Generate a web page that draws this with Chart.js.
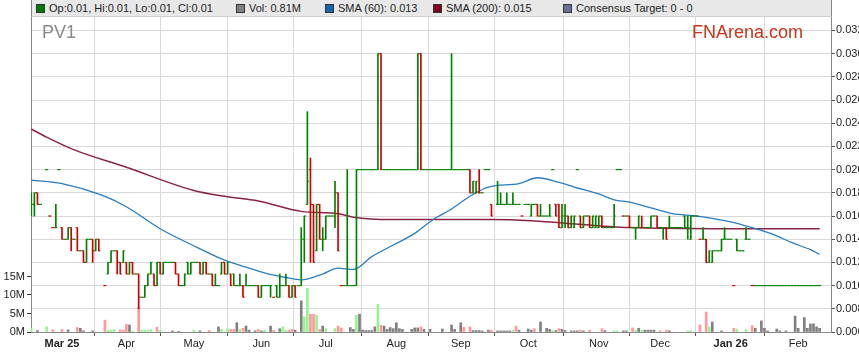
<!DOCTYPE html>
<html><head><meta charset="utf-8">
<script src="https://cdn.jsdelivr.net/npm/chart.js@4.4.1/dist/chart.umd.min.js"></script>
<style>
html,body{margin:0;padding:0;background:#fff;}
#wrap{position:relative;width:859px;height:363px;overflow:hidden;font-family:"Liberation Sans",Arial,sans-serif;}
#c{position:absolute;left:0;top:0;}
#legend{position:absolute;left:31px;top:0;width:801px;height:17px;background:#e8e8e8;border-left:1px solid #888;border-right:1px solid #888;border-bottom:1px solid #cfcfcf;box-sizing:border-box;font-size:11px;color:#222;}
.item{position:absolute;top:2px;line-height:12px;white-space:nowrap;}
.sw{display:inline-block;width:7px;height:7px;border:1px solid #333;margin-right:4px;vertical-align:-1px;}
#code{position:absolute;left:42px;top:22px;font-size:18px;color:#8a8a8a;}
#brand{position:absolute;left:692px;top:22px;font-size:18px;color:#c8361a;}
</style></head>
<body>
<div id="wrap">
<canvas id="c" width="859" height="363"></canvas>
<div id="legend">
 <div class="item" style="left:4px"><span class="sw" style="background:#007a00"></span>Op:0.01, Hi:0.01, Lo:0.01, Cl:0.01</div>
 <div class="item" style="left:204px"><span class="sw" style="background:#808080"></span>Vol: 0.81M</div>
 <div class="item" style="left:293px"><span class="sw" style="background:#1466b0"></span>SMA (60): 0.013</div>
 <div class="item" style="left:401px"><span class="sw" style="background:#800020"></span>SMA (200): 0.015</div>
 <div class="item" style="left:531px"><span class="sw" style="background:#6e6e9a"></span>Consensus Target: 0 - 0</div>
</div>
<div id="code">PV1</div>
<div id="brand">FNArena.com</div>
</div>
<script>
// Prices are given in units of 0.001 AUD (index = trading weekday from 17 Feb 2025)
const PRICE_UNIT = 0.001;
const openP = [
17,17,18,17,null,20,16,15,15,20,
15,14,14,15,14,15,13,13,12,14,
14,13,14,null,10,11,12,13,13,12,
12,12,11,12,11,11,9,9,10,11,
11,10,12,11,12,12,12,12,11,10,
10,12,11,12,12,12,11,12,11,11,
10,10,11,12,11,11,11,10,10,10,
10,10,10,10,10,9,10,10,10,9,
10,9,10,10,10,9,10,10,10,14,
17,20,17,13,17,14,14,16,16,16,
18,10,10,10,10,10,10,20,20,20,
20,20,20,20,30,20,20,20,20,20,
20,20,20,20,20,20,20,30,20,20,
20,20,20,20,20,20,20,20,20,20,
20,20,20,20,18,18,18,18,20,20,
17,null,17,17,17,17,17,17,17,17,
16,17,17,16,17,17,16,16,16,16,
20,17,17,15,16,16,15,15,20,16,
15,16,16,15,15,15,16,15,15,15,
15,20,20,16,16,16,15,15,15,15,
15,15,15,16,16,15,15,15,15,15,
15,15,15,16,15,14,16,16,14,14,
14,12,12,13,13,13,14,14,14,10,
14,13,13,14,14,10,10,10,10,10,
10,10,10,10,10,10,10,10,10,10,
10,10,10,10,10,10,10,10];
const highP = [
18,18,18,17,null,20,16,15,17,20,
15,14,15,15,14,15,13,13,14,14,
14,14,14,null,10,12,13,13,13,12,
13,12,12,12,11,11,9,10,11,12,
11,12,12,12,12,12,12,12,11,10,
11,12,12,12,12,12,12,12,11,11,
11,10,12,12,12,11,11,10,11,10,
11,10,10,10,10,10,10,10,10,9,
10,11,10,11,10,10,10,10,15,16,
25,21,17,17,17,15,16,16,16,19,
18,10,10,20,10,10,20,20,20,20,
20,20,20,30,30,20,20,20,20,20,
20,20,20,20,20,20,30,30,20,20,
20,20,20,20,20,20,20,30,20,20,
20,20,20,20,19,19,20,18,20,20,
17,null,19,18,17,18,17,18,17,17,
16,17,17,17,17,17,17,16,16,17,
20,17,17,17,17,16,16,16,20,16,
16,16,16,16,16,16,16,15,15,15,
17,20,20,16,16,16,15,15,16,16,
15,15,16,16,16,15,15,15,16,15,
15,15,15,16,16,16,16,16,14,15,
14,13,13,13,13,14,15,14,14,10,
14,13,13,15,14,10,10,10,10,10,
10,10,10,10,10,10,10,10,10,10,
10,10,10,10,10,10,10,10];
const lowP = [
16,16,17,17,null,20,16,15,15,20,
14,14,14,13,14,13,13,12,12,14,
12,13,13,null,10,11,12,13,11,11,
12,11,11,11,11,8,9,9,10,11,
10,10,11,11,12,12,12,11,10,10,
10,11,11,12,12,11,11,11,11,10,
10,10,11,11,11,10,10,10,10,9,
10,10,10,10,9,9,10,10,9,9,
9,9,10,10,9,9,9,10,10,12,
17,12,12,13,14,13,14,16,16,15,
13,10,10,10,10,10,10,20,20,20,
20,20,20,20,20,20,20,20,20,20,
20,20,20,20,20,20,20,20,20,20,
20,20,20,20,20,20,20,20,20,20,
20,20,20,18,18,18,18,18,20,20,
16,null,17,17,17,17,17,17,17,17,
16,17,17,16,17,16,16,16,16,16,
20,16,15,15,15,15,15,15,20,15,
15,16,15,15,15,15,15,15,15,15,
15,20,20,16,16,15,15,14,15,15,
15,15,15,16,15,15,14,14,15,15,
15,15,15,15,14,14,16,16,14,14,
12,12,12,13,13,13,14,14,14,10,
13,13,13,14,14,10,10,10,10,10,
10,10,10,10,10,10,10,10,10,10,
10,10,10,10,10,10,10,10];
const closeP = [
17,18,17,17,null,20,16,15,15,20,
14,14,15,14,14,13,13,12,14,14,
13,14,13,null,10,12,13,13,12,11,
13,11,12,11,11,9,9,10,11,12,
10,12,11,12,12,12,12,11,10,10,
11,11,12,12,12,11,12,11,11,10,
10,10,12,11,12,10,10,10,10,9,
10,10,10,10,9,10,10,10,10,9,
9,10,10,10,9,10,9,10,14,16,
19,17,12,17,14,14,16,16,16,18,
13,10,10,10,10,10,20,20,20,20,
20,20,20,30,20,20,20,20,20,20,
20,20,20,20,20,20,30,20,20,20,
20,20,20,20,20,20,20,20,20,20,
20,20,20,18,19,19,18,18,20,20,
16,null,17,17,17,17,17,17,17,17,
16,17,17,17,17,16,16,16,16,16,
20,16,15,16,16,15,16,16,20,15,
16,16,15,16,16,16,15,15,15,15,
16,20,20,16,16,15,15,15,16,15,
15,15,16,16,15,15,15,14,15,15,
15,15,15,15,15,16,16,16,14,14,
12,13,13,13,13,14,14,14,14,10,
13,13,13,14,14,10,10,10,10,10,
10,10,10,10,10,10,10,10,10,10,
10,10,10,10,10,10,10,10];

// Volume (millions) at trading-day index; kind: u = up (green), d = down (pink), n = unchanged (grey)
const volIdx = [0,2,5,7,10,12,15,16,17,20,24,25,26,27,29,30,31,32,33,35,36,37,38,39,41,42,46,48,53,55,58,61,62,
64,65,66,67,68,69,70,71,73,74,75,76,78,79,81,82,83,84,85,86,88,89,90,91,92,93,94,95,96,99,100,101,104,105,106,107,108,109,110,111,112,113,114,115,116,117,118,119,120,121,124,125,126,127,128,130,
134,137,138,140,141,143,144,145,146,147,149,150,152,153,154,155,156,157,158,159,162,163,164,166,168,169,170,171,172,173,174,176,177,178,179,180,182,186,187,190,191,193,194,196,197,198,199,200,201,202,203,205,207,208,214,215,218,220,221,222,225,229,230,233,235,236,238,239,240,243,244,246,249,250,252,253,254,255,256,257];
const volM = [1.0,0.4,1.4,0.6,0.7,0.6,1.2,1.0,0.3,0.3,3.2,0.5,0.5,0.7,0.6,0.5,2.1,1.9,0.2,6.7,0.5,0.5,0.5,0.7,1.3,0.5,0.3,0.1,0.5,0.3,0.4,1.4,0.7,
0.9,0.7,0.7,2.5,0.7,1.0,1.6,0.5,0.3,0.7,0.3,0.5,1.6,0.5,0.9,1.4,0.5,0.5,0.7,0.5,8.4,4.1,11.8,4.8,4.8,4.5,0.7,1.6,0.9,0.9,1.6,1.1,1.2,0.7,4.5,4.8,0.5,0.4,0.4,0.4,1.4,7.5,1.8,1.6,0.7,1.2,0.9,2.5,0.9,0.7,0.7,1.1,1.1,1.4,0.7,0.7,
0.8,1.9,0.7,2.5,1.3,1.4,0.4,0.4,0.4,0.3,0.5,0.5,0.3,0.3,0.3,0.3,0.3,0.5,1.6,0.5,0.8,0.5,0.9,2.7,1.0,0.7,0.4,0.4,0.9,0.7,0.4,0.3,0.3,0.3,0.5,0.3,0.5,0.9,0.4,0.3,0.3,0.3,0.3,1.1,0.5,1.0,0.5,0.5,0.5,0.5,0.5,0.3,0.5,0.3,0.3,0.3,1.9,5.4,1.4,2.7,0.3,1.0,0.8,0.7,1.7,1.0,3.0,1.0,0.3,0.8,0.3,0.3,4.3,1.0,3.9,1.0,2.2,2.2,1.4,1.0];
const volKind = ['u','n','u','d','d','n','d','n','n','n','d','u','u','u','d','d','d','n','u','d','u','u','u','u','d','u','n','n','u','n','d','n','u',
'u','d','d','n','u','d','n','n','n','d','n','u','n','d','n','u','u','d','d','n','n','u','u','d','d','u','d','n','u','u','d','d','n','n','u','n','n','n','n','n','n','u','d','n','n','n','n','n','n','n','n','n','n','d','n','n',
'n','n','n','n','d','d','n','n','n','n','n','d','n','n','n','n','n','u','d','n','n','n','d','n','n','n','u','n','d','n','n','n','n','n','d','n','d','d','n','u','u','n','n','d','u','n','u','n','n','n','n','d','d','n','u','u','d','d','u','n','n','d','u','u','d','n','n','n','n','n','n','n','n','n','n','n','n','n','n','n'];

// Moving averages read at sample days
const sma60Idx = [0,10,23,31,42,54,63,70,76,83,88,95,100,105,111,118,125,131,137,143,149,159,165,172,177,185,190,195,202,209,217,228,235,242,248,254,257];
const sma60Val = [0.0191,0.0188,0.0178,0.0168,0.0149,0.0133,0.0122,0.0116,0.0111,0.0107,0.0105,0.0110,0.0115,0.0114,0.0125,0.0135,0.0145,0.0157,0.0166,0.0177,0.0185,0.0188,0.0193,0.0189,0.0185,0.0179,0.0174,0.0172,0.0167,0.0162,0.0160,0.0155,0.0150,0.0144,0.0137,0.0131,0.0127];
const sma200Idx = [0,5,14,31,53,63,74,88,100,105,117,130,150,163,173,195,228,257];
const sma200Val = [0.0235,0.0228,0.0217,0.0202,0.0182,0.0177,0.0173,0.0164,0.0162,0.0159,0.0157,0.0157,0.0157,0.0156,0.0154,0.0150,0.0149,0.0149];

// Axes
const monthIdx = [10,31,53,75,96,119,140,162,185,205,228,250];
const monthLabels = ['Mar 25','Apr','May','Jun','Jul','Aug','Sep','Oct','Nov','Dec','Jan 26','Feb'];
const boldLabels = ['Mar 25','Jan 26'];
const priceTicks = [0.006,0.008,0.010,0.012,0.014,0.016,0.018,0.020,0.022,0.024,0.026,0.028,0.030,0.032];
const volTicksM = [0,5,10,15];

const UP = '#008000', DN = '#d00000';
const volColors = {u:'#98f398', d:'#ff9a9a', n:'#808080'};

const hl = [], hlCol = [], opT = [], clT = [], tCol = [];
let prev = null;
for (let i = 0; i < closeP.length; i++) {
  if (closeP[i] == null) continue;
  const col = (prev == null || closeP[i] >= prev) ? UP : DN;
  prev = closeP[i];
  hl.push({x: i, y: [lowP[i] * PRICE_UNIT, highP[i] * PRICE_UNIT]});
  hlCol.push(col);
  opT.push({x: i - 0.25, y: openP[i] * PRICE_UNIT});
  clT.push({x: i + 0.25, y: closeP[i] * PRICE_UNIT});
  tCol.push(col);
}
const vol = volIdx.map((d, k) => ({x: d, y: volM[k] * 1e6}));
const volCol = volKind.map(k => volColors[k]);
const s60 = sma60Idx.map((d, k) => ({x: d, y: sma60Val[k]}));
const s200 = sma200Idx.map((d, k) => ({x: d, y: sma200Val[k]}));

Chart.defaults.font.family = '"Liberation Sans", Arial, sans-serif';
Chart.defaults.font.size = 11;
Chart.defaults.color = '#222';

new Chart(document.getElementById('c'), {
  type: 'bar',
  data: {
    datasets: [
      {type:'bar', label:'Vol', data: vol, yAxisID:'yV', backgroundColor: volCol, barThickness: 2, grouped:false, order: 6},
      {type:'line', label:'SMA200', data: s200, yAxisID:'yP', borderColor:'#8a2447', borderWidth:1.5, pointRadius:0, cubicInterpolationMode:'monotone', order: 5},
      {type:'line', label:'SMA60', data: s60, yAxisID:'yP', borderColor:'#2a7dc0', borderWidth:1.3, pointRadius:0, cubicInterpolationMode:'monotone', order: 4},
      {type:'bar', label:'HL', data: hl, yAxisID:'yP', backgroundColor: hlCol, barThickness: 1, grouped:false, order: 3},
      {type:'line', label:'Open', data: opT, yAxisID:'yP', showLine:false, pointStyle:'line', pointRadius:0.77, pointBorderWidth:1.1, pointBorderColor: tCol, pointBackgroundColor: tCol, order: 2},
      {type:'line', label:'Close', data: clT, yAxisID:'yP', showLine:false, pointStyle:'line', pointRadius:0.77, pointBorderWidth:1.1, pointBorderColor: tCol, pointBackgroundColor: tCol, order: 1}
    ]
  },
  options: {
    responsive:false, animation:false, events:[],
    layout:{padding:{top:17, left:0, right:0, bottom:0}},
    plugins:{legend:{display:false}, tooltip:{enabled:false}},
    scales:{
      x:{type:'linear', min:-0.1, max:260.7, offset:false,
        afterBuildTicks: s => { s.ticks = monthIdx.map(v => ({value:v})); },
        afterFit: s => { s.height = 31; },
        grid:{color:'#d9d9d9', tickColor:'#555', tickLength:4},
        border:{color:'#888'},
        ticks:{autoSkip:false, maxRotation:0, padding:1, color:'#222',
          font: ctx => ({size:11, weight: (ctx.tick && boldLabels.includes(monthLabels[monthIdx.indexOf(ctx.tick.value)])) ? 'bold' : 'normal'}),
          callback: v => monthLabels[monthIdx.indexOf(v)]}
      },
      yP:{type:'linear', position:'right', min:0.006, max:0.03316,
        afterBuildTicks: s => { s.ticks = priceTicks.map(v => ({value:v})); },
        afterFit: s => { s.width = 28; },
        grid:{color:'#d9d9d9', tickColor:'#555', tickLength:4},
        border:{color:'#888'},
        ticks:{padding:1, color:'#222', callback: v => v.toFixed(3)}
      },
      yV:{type:'linear', position:'left', min:0, max:85.1e6,
        afterBuildTicks: s => { s.ticks = volTicksM.map(v => ({value:v * 1e6})); },
        afterFit: s => { s.width = 31; },
        grid:{drawOnChartArea:false, tickColor:'#333', tickLength:4},
        border:{color:'#888'},
        ticks:{padding:2, color:'#222', callback: v => (v / 1e6) + 'M'}
      }
    }
  }
});
</script>
</body></html>
